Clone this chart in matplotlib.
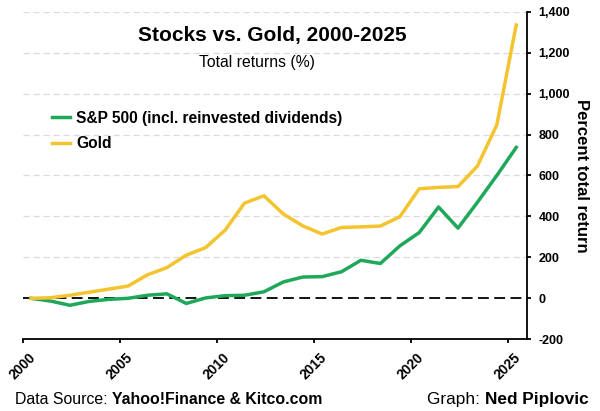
import matplotlib
matplotlib.use("Agg")
from matplotlib import pyplot as plt
import numpy as np

plt.rcParams['font.family'] = ['Liberation Sans', 'DejaVu Sans']

years = np.arange(2000, 2026)
sp500 = [0, -13, -34, -15, -5, 0, 15, 22, -25, 2, 13, 15, 32, 80, 104, 106,
         130, 186, 170, 256, 321, 446, 343, 469, 600, 737]
gold = [0, 3, 15, 30, 45, 60, 115, 150, 211, 248, 333, 465, 501, 412, 354, 314,
        346, 349, 353, 398, 535, 542, 546, 646, 847, 1335]

green = '#1fa85a'
yellow = '#f4c430'

fig = plt.figure(figsize=(6, 4.11), dpi=100)
ax = fig.add_axes([0.0378, 0.1745, 0.8410, 0.797])

# yearly points sit about mid-year
xpos = years + 0.43
ax.plot(xpos, sp500, color=green, lw=2.5, label='S&P 500 (incl. reinvested dividends)', zorder=3)
ax.plot(xpos, gold, color=yellow, lw=2.5, label='Gold', zorder=3)

for yv in range(200, 1401, 200):
    ax.axhline(yv, color='#dcdcdc', lw=0.9, ls=(0, (5, 3)), zorder=1)
ax.axhline(0, color='black', lw=1.3, ls=(0, (6, 3)), zorder=2)

ax.set_xlim(2000, 2026)
ax.set_ylim(-200, 1400)
ax.set_xticks(range(2000, 2026, 5))
ax.set_xticklabels([str(y) for y in range(2000, 2026, 5)], rotation=45,
                   ha='center', fontweight='bold', fontsize=10)
ax.set_yticks(range(-200, 1401, 200))
ax.set_yticklabels([f'{v:,}' for v in range(-200, 1401, 200)], fontweight='bold', fontsize=9)
ax.yaxis.tick_right()
ax.yaxis.set_label_position('right')
ax.set_ylabel('Percent total return', rotation=270, labelpad=14,
              fontsize=12, fontweight='bold')
ax.spines['top'].set_visible(False)
ax.spines['left'].set_visible(False)
ax.spines['right'].set_linewidth(1.3)
ax.spines['bottom'].set_linewidth(1.3)
ax.tick_params(axis='both', direction='out', length=3, width=1.3)
ax.tick_params(axis='y', pad=5)
ax.tick_params(axis='x', pad=5)

fig.text(0.454, 1 - 35 / 411, 'Stocks vs. Gold, 2000-2025',
         ha='center', va='center', fontsize=15, fontweight='bold')
fig.text(0.429, 1 - 62 / 411, 'Total returns (%)',
         ha='center', va='center', fontsize=11.3)

ax.legend(loc='upper left', bbox_to_anchor=(0.03, 0.74), frameon=False,
          handlelength=1.2, handletextpad=0.35, labelspacing=0.65,
          prop={'weight': 'bold', 'size': 11.2})

fig.canvas.draw()
r = fig.canvas.get_renderer()
fy = 1 - 399 / 411
t1 = fig.text(0.025, fy, 'Data Source: ', fontsize=11.4, va='center')
w1 = t1.get_window_extent(r).width / fig.bbox.width
fig.text(0.025 + w1, fy, 'Yahoo!Finance & Kitco.com', fontsize=11.4,
         fontweight='bold', va='center')
t2 = fig.text(0.9805, fy, 'Ned Piplovic', fontsize=12.4, fontweight='bold',
              ha='right', va='center')
w2 = t2.get_window_extent(r).width / fig.bbox.width
fig.text(0.9805 - w2, fy, 'Graph: ', fontsize=12.4, ha='right', va='center')

fig.savefig('out.png', dpi=100)
